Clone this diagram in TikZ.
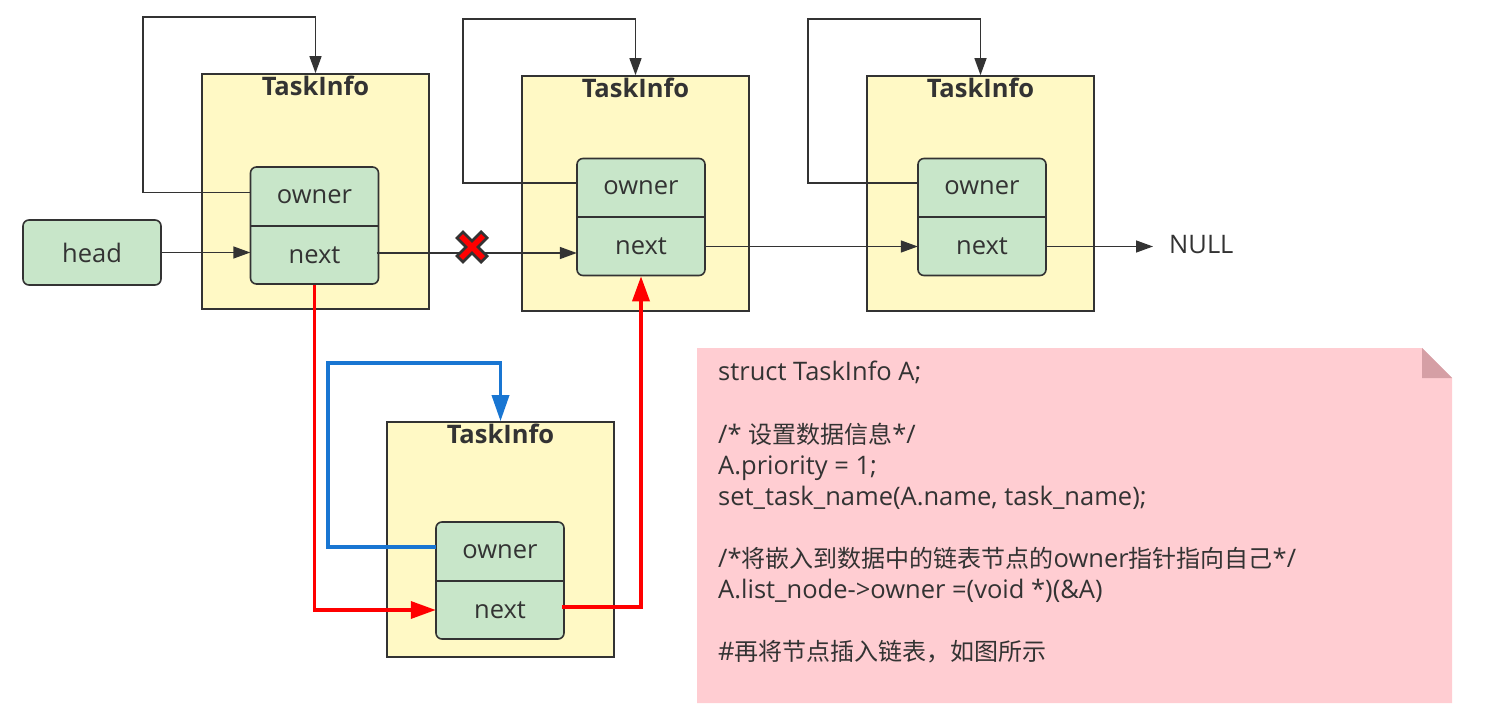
\documentclass[tikz,border=0pt]{standalone}
\usepackage{fontspec}
\setmainfont{Open Sans}
\newfontfamily\cjk{Noto Sans CJK SC}
\usetikzlibrary{arrows.meta}
\definecolor{ink}{HTML}{333333}
\definecolor{boxyellow}{HTML}{FFF9C5}
\definecolor{nodegreen}{HTML}{C8E6C9}
\definecolor{notepink}{HTML}{FFCDD2}
\definecolor{foldpink}{HTML}{D59FA5}
\definecolor{linkred}{HTML}{FF0000}
\definecolor{linkblue}{HTML}{1976D2}
\begin{document}
\begin{tikzpicture}[x=1pt,y=-1pt,
  taskbox/.style={draw=ink, line width=1.6pt, fill=boxyellow, minimum width=227pt, minimum height=235pt, inner sep=0pt},
  listnode/.style={draw=ink, line width=1.6pt, fill=nodegreen, rounded corners=6pt, minimum width=128pt, minimum height=117pt, inner sep=0pt},
  field/.style={minimum width=128pt, minimum height=58.5pt, inner sep=0pt, text=ink, font=\fontsize{25.5}{30}\selectfont},
  title/.style={text=ink, inner sep=0pt, font=\fontsize{25.5}{30}\selectfont\bfseries},
  headnode/.style={draw=ink, line width=1.6pt, fill=nodegreen, rounded corners=6pt, minimum width=138pt, minimum height=65pt, inner sep=0pt, text=ink, font=\fontsize{25.5}{30}\selectfont},
  link/.style={draw=ink, line width=1.4pt, -{Triangle[length=17pt,width=12pt]}},
  redlink/.style={draw=linkred, line width=3.5pt, -{Triangle[length=25pt,width=17pt]}},
  bluelink/.style={draw=linkblue, line width=3.5pt, -{Triangle[length=26pt,width=17pt]}},
  codeline/.style={anchor=base west, inner sep=0pt, text=ink, font=\fontsize{25.5}{31}\selectfont},
]
\useasboundingbox (0,0) rectangle (1486,719);

% task boxes
\node[taskbox] (b1) at (315.5,191.5) {};
\node[taskbox] (b2) at (635.5,193.5) {};
\node[taskbox] (b3) at (980.5,193.5) {};
\node[taskbox] (b4) at (500.5,539.5) {};
\node[title] (t1) at ([yshift=-13pt]b1.north) {TaskInfo};
\node[title] (t2) at ([yshift=-13pt]b2.north) {TaskInfo};
\node[title] (t3) at ([yshift=-13pt]b3.north) {TaskInfo};
\node[title] (t4) at ([yshift=-13pt]b4.north) {TaskInfo};

% list nodes
\node[listnode] (g1) at (314.5,225.5) {};
\node[field] (g1o) at (314.5,196.5) {owner};
\node[field] (g1n) at (314.5,255) {next};
\draw[ink, line width=1.6pt] (g1o.south west) -- (g1o.south east);

\node[listnode] (g2) at (641,217) {};
\node[field] (g2o) at (641,187.5) {owner};
\node[field] (g2n) at (641,246.5) {next};
\draw[ink, line width=1.6pt] (g2o.south west) -- (g2o.south east);

\node[listnode] (g3) at (982,217) {};
\node[field] (g3o) at (982,187.5) {owner};
\node[field] (g3n) at (982,246.5) {next};
\draw[ink, line width=1.6pt] (g3o.south west) -- (g3o.south east);

\node[listnode] (g4) at (500,580.5) {};
\node[field] (g4o) at (500,551.5) {owner};
\node[field] (g4n) at (500,610) {next};
\draw[ink, line width=1.6pt] (g4o.south west) -- (g4o.south east);

\node[headnode] (head) at (92,252.5) {head};
\node[anchor=west, inner xsep=16pt, inner ysep=0pt, text=ink, font=\fontsize{25.5}{30}\selectfont] (null) at (1153,245) {NULL};

% owner loops
\coordinate (c1) at (143,17);
\coordinate (c2) at (463,19);
\coordinate (c3) at (808,19);
\coordinate (c4) at (328,363);
\draw[link] ([yshift=4pt]g1o.west) -| (c1) -| (b1.north);
\draw[link] ([yshift=4.5pt]g2o.west) -| (c2) -| (b2.north);
\draw[link] ([yshift=4.5pt]g3o.west) -| (c3) -| (b3.north);
\draw[bluelink] ([yshift=4.5pt]g4o.west) -| (c4) -| (b4.north);

% next links
\draw[link] (head.east) -- (head.east -| g1n.west);
\draw[link] ([xshift=-2pt,yshift=2pt]g1n.east) -- ([yshift=2pt]g1n.east -| g2n.west);
\draw[link] (g2n.east) -- (g3n.west);
\draw[link] (g3n.east) -- (g3n.east -| null.west);
\draw[redlink] (g1.south) |- (g4n.west);
\draw[redlink] ([xshift=-2pt,yshift=3pt]g4n.east) -| (g2.south);

% cross mark
\draw[ink, line width=11pt] (459,234) -- (485,260) (459,260) -- (485,234);
\draw[linkred, line width=5.5pt] (461,236) -- (483,258) (461,258) -- (483,236);

% note
\fill[notepink] (697,348) -- (1422,348) -- (1452,378) -- (1452,703) -- (697,703) -- cycle;
\fill[foldpink] (1422,348) -- (1452,378) -- (1422,378) -- cycle;
\node[codeline] (l1) at (718,381) {struct TaskInfo A;};
\node[codeline] (l2) at (718,443) {/* {\cjk\fontsize{24}{31}\selectfont 设置数据信息}*/};
\node[codeline] (l3) at (718,474) {A.priority = 1;};
\node[codeline] (l4) at (718,505) {set\_task\_name(A.name, task\_name);};
\node[codeline] (l5) at (718,567) {/*{\cjk\fontsize{24}{31}\selectfont 将嵌入到数据中的链表节点的}owner{\cjk\fontsize{24}{31}\selectfont 指针指向自己}*/};
\node[codeline] (l6) at (718,598) {A.list\_node->owner =(void *)(\&A)};
\node[codeline] (l7) at (718,660) {\#{\cjk\fontsize{24}{31}\selectfont 再将节点插入链表，如图所示}};
\end{tikzpicture}
\end{document}
